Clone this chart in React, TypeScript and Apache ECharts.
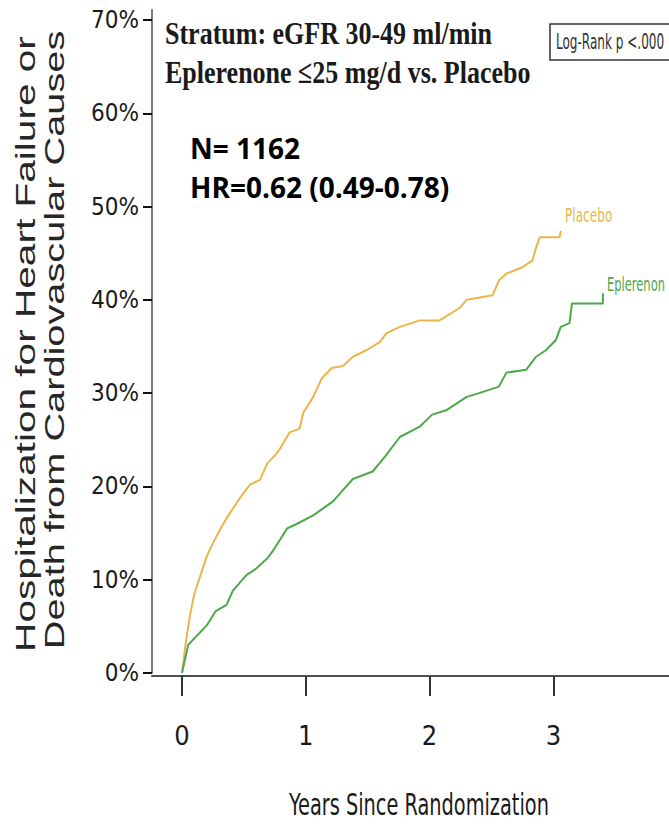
import React, { useEffect, useRef } from "react";
import * as echarts from "echarts";

// Kaplan-Meier style cumulative incidence (years, percent)
const placeboYears = [0, 0.03, 0.065, 0.1, 0.145, 0.2, 0.25, 0.3, 0.36, 0.42, 0.47, 0.55, 0.63, 0.69, 0.75, 0.79, 0.87, 0.95, 0.98, 1.06, 1.13, 1.21, 1.3, 1.38, 1.49, 1.6, 1.65, 1.76, 1.92, 2.08, 2.24, 2.3, 2.51, 2.56, 2.62, 2.75, 2.83, 2.86, 2.89, 3.05, 3.06];
const placeboPct = [0, 3.2, 6.2, 8.5, 10.3, 12.5, 13.9, 15.2, 16.6, 17.8, 18.8, 20.2, 20.7, 22.5, 23.3, 24.0, 25.8, 26.2, 27.9, 29.6, 31.6, 32.7, 32.9, 33.9, 34.6, 35.5, 36.4, 37.1, 37.8, 37.8, 39.1, 40.0, 40.5, 42.1, 42.8, 43.5, 44.2, 45.6, 46.7, 46.7, 47.4];

const eplerYears = [0, 0.05, 0.12, 0.2, 0.27, 0.36, 0.41, 0.52, 0.6, 0.69, 0.73, 0.85, 0.93, 1.06, 1.22, 1.38, 1.54, 1.64, 1.76, 1.92, 2.02, 2.14, 2.3, 2.4, 2.56, 2.62, 2.78, 2.86, 2.94, 3.02, 3.06, 3.13, 3.15, 3.4, 3.4];
const eplerPct = [0, 3.0, 4.0, 5.1, 6.6, 7.3, 8.8, 10.5, 11.2, 12.3, 13.0, 15.5, 16.0, 16.9, 18.4, 20.8, 21.6, 23.2, 25.3, 26.4, 27.7, 28.2, 29.6, 30.0, 30.7, 32.2, 32.5, 33.9, 34.6, 35.7, 37.1, 37.5, 39.6, 39.6, 40.7];

const yearTicks = [0, 1, 2, 3];
const seriesLabels = ["Placebo", "Eplerenon"];
const seriesNames = ["Placebo", "Eplerenone"];

const NARROW = '"Liberation Sans Narrow", "DejaVu Sans Condensed", "Arial Narrow", sans-serif';
const PLACEBO_COLOR = "#EAB64A";
const EPLER_COLOR = "#4EA84A";

function pairs(xs: number[], ys: number[]) {
  return xs.map((x, i) => [x, ys[i]]);
}

function txt(text: string, x: number, y: number, o: any = {}) {
  return {
    type: "text",
    x,
    y,
    scaleX: o.scaleX ?? 1,
    scaleY: o.scaleY ?? 1,
    rotation: o.rotation ?? 0,
    silent: true,
    style: {
      text,
      fill: o.fill ?? "#222",
      fontSize: o.fontSize ?? 16,
      fontFamily: o.fontFamily ?? NARROW,
      fontWeight: o.fontWeight ?? "normal",
      align: o.align ?? "left",
      verticalAlign: o.verticalAlign ?? "middle",
      textAlign: o.align ?? "left",
      textVerticalAlign: o.verticalAlign ?? "middle",
    },
  };
}

export default function App() {
  const ref = useRef<HTMLDivElement>(null);
  useEffect(() => {
    document.body.style.margin = "0";
    const chart = echarts.init(ref.current!, null, { renderer: "svg" });
    chart.setOption({
      animation: false,
      backgroundColor: "#ffffff",
      grid: { left: 152, right: 0, top: 20, bottom: 156, containLabel: false, outerBoundsMode: "none" },
      xAxis: {
        type: "value",
        min: -0.2423,
        max: 3.934,
        offset: 3,
        splitLine: { show: false },
        axisLine: { onZero: false, lineStyle: { color: "#4a4f4f", width: 2 } },
        axisTick: { customValues: yearTicks, length: 20, lineStyle: { color: "#333", width: 2 } },
        axisLabel: { customValues: yearTicks, margin: 46, fontSize: 27, fontFamily: NARROW, color: "#1a1a1a" },
      },
      yAxis: {
        type: "value",
        min: 0,
        max: 70,
        interval: 10,
        splitLine: { show: false },
        axisLine: { show: true, onZero: false, lineStyle: { color: "#6f7f7f", width: 2 } },
        axisTick: { show: true, length: 9, lineStyle: { color: "#111", width: 2 } },
        axisLabel: { formatter: "{value}%", margin: 13, fontSize: 24, fontFamily: NARROW, color: "#1a1a1a" },
      },
      series: [
        {
          name: seriesNames[0],
          type: "line",
          showSymbol: false,
          data: pairs(placeboYears, placeboPct),
          lineStyle: { color: PLACEBO_COLOR, width: 2 },
          itemStyle: { color: PLACEBO_COLOR },
        },
        {
          name: seriesNames[1],
          type: "line",
          showSymbol: false,
          data: pairs(eplerYears, eplerPct),
          lineStyle: { color: EPLER_COLOR, width: 2 },
          itemStyle: { color: EPLER_COLOR },
        },
      ],
      graphic: [
        { type: "line", silent: true, shape: { x1: 152, y1: 9, x2: 152, y2: 21 }, style: { stroke: "#6f7f7f", lineWidth: 2 } },
        txt("Hospitalization for Heart Failure or", 25, 344, { rotation: Math.PI / 2, align: "center", fontSize: 28, scaleX: 1.45, fontFamily: '"Liberation Sans", Arial, sans-serif', fill: "#262626" }),
        txt("Death from Cardiovascular Causes", 54, 340, { rotation: Math.PI / 2, align: "center", fontSize: 28, scaleX: 1.42, fontFamily: '"Liberation Sans", Arial, sans-serif', fill: "#262626" }),
        txt("Stratum: eGFR 30-49 ml/min", 165, 33, { fontSize: 26, scaleY: 1.25, fontWeight: "bold", fontFamily: '"Liberation Serif", "Times New Roman", serif', fill: "#1a1a1a" }),
        txt("Eplerenone \u226425 mg/d vs. Placebo", 165, 72, { fontSize: 26, scaleY: 1.25, fontWeight: "bold", fontFamily: '"Liberation Serif", "Times New Roman", serif', fill: "#1a1a1a" }),
        txt("N= 1162", 190, 148, { fontSize: 28, fontWeight: "bold", fontFamily: '"Open Sans", "Liberation Sans", sans-serif', fill: "#000" }),
        txt("HR=0.62 (0.49-0.78)", 190, 187, { fontSize: 28, fontWeight: "bold", fontFamily: '"Open Sans", "Liberation Sans", sans-serif', fill: "#000" }),
        { type: "rect", silent: true, shape: { x: 550, y: 24, width: 140, height: 36 }, style: { fill: "none", stroke: "#333", lineWidth: 1.5 } },
        txt("Log-Rank p <.000", 556, 42, { fontSize: 13.4, scaleY: 1.55, fill: "#333" }),
        txt(seriesLabels[0], 565, 215, { fontSize: 13.5, scaleY: 1.45, fill: PLACEBO_COLOR }),
        txt(seriesLabels[1], 607, 285, { fontSize: 12.8, scaleY: 1.5, fill: EPLER_COLOR }),
        txt("Years Since Randomization", 419, 805, { align: "center", fontSize: 21.5, scaleY: 1.4, fill: "#1a1a1a" }),
      ],
    });
    return () => chart.dispose();
  }, []);
  return <div ref={ref} style={{ width: 669, height: 829 }} />;
}
